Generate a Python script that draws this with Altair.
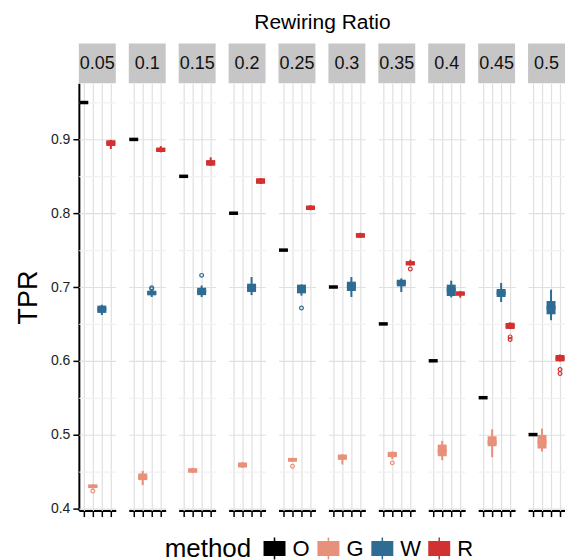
import altair as alt
import pandas as pd

ratios = ["0.05", "0.1", "0.15", "0.2", "0.25", "0.3", "0.35", "0.4", "0.45", "0.5"]
methods = ["O", "G", "W", "R"]
colors = ["#000000", "#E8917A", "#2E6C93", "#D13131"]

# O (constant per ratio)
O_lo  = [0.950, 0.900, 0.850, 0.800, 0.750, 0.700, 0.650, 0.600, 0.550, 0.500]
O_q1  = [0.950, 0.900, 0.850, 0.800, 0.750, 0.700, 0.650, 0.600, 0.550, 0.500]
O_med = [0.950, 0.900, 0.850, 0.800, 0.750, 0.700, 0.650, 0.600, 0.550, 0.500]
O_q3  = [0.950, 0.900, 0.850, 0.800, 0.750, 0.700, 0.650, 0.600, 0.550, 0.500]
O_hi  = [0.950, 0.900, 0.850, 0.800, 0.750, 0.700, 0.650, 0.600, 0.550, 0.500]

G_lo  = [0.4265, 0.4315, 0.4480, 0.4550, 0.4630, 0.4595, 0.4667, 0.4653, 0.4694, 0.4770]
G_q1  = [0.4275, 0.4383, 0.4486, 0.4554, 0.4635, 0.4658, 0.4694, 0.4707, 0.4842, 0.4811]
G_med = [0.4300, 0.4420, 0.4510, 0.4590, 0.4660, 0.4690, 0.4730, 0.4780, 0.4900, 0.4900]
G_q3  = [0.4320, 0.4473, 0.4545, 0.4622, 0.4680, 0.4730, 0.4766, 0.4865, 0.4977, 0.4995]
G_hi  = [0.4325, 0.4509, 0.4550, 0.4628, 0.4685, 0.4735, 0.4770, 0.4914, 0.5072, 0.5080]

W_lo  = [0.6620, 0.6865, 0.6865, 0.6890, 0.6883, 0.6865, 0.6932, 0.6860, 0.6797, 0.6550]
W_q1  = [0.6649, 0.6887, 0.6890, 0.6932, 0.6914, 0.6946, 0.7009, 0.6878, 0.6865, 0.6630]
W_med = [0.6700, 0.6920, 0.6940, 0.6990, 0.6980, 0.7010, 0.7060, 0.6960, 0.6920, 0.6720]
W_q3  = [0.6748, 0.6950, 0.6990, 0.7045, 0.7032, 0.7072, 0.7099, 0.7032, 0.6973, 0.6810]
W_hi  = [0.6760, 0.6955, 0.7020, 0.7135, 0.7035, 0.7135, 0.7117, 0.7086, 0.7054, 0.6964]

R_lo  = [0.8870, 0.8825, 0.8640, 0.8395, 0.8040, 0.7665, 0.7290, 0.6856, 0.6430, 0.5990]
R_q1  = [0.8910, 0.8830, 0.8644, 0.8400, 0.8045, 0.7667, 0.7293, 0.6883, 0.6432, 0.5995]
R_med = [0.8950, 0.8860, 0.8680, 0.8430, 0.8070, 0.7700, 0.7320, 0.6910, 0.6470, 0.6030]
R_q3  = [0.8990, 0.8890, 0.8720, 0.8473, 0.8104, 0.7730, 0.7351, 0.6941, 0.6514, 0.6077]
R_hi  = [0.8995, 0.8910, 0.8757, 0.8478, 0.8110, 0.7735, 0.7370, 0.6945, 0.6520, 0.6086]

out_ratio  = ["0.05", "0.1", "0.1", "0.15", "0.25", "0.25", "0.35", "0.35", "0.45", "0.45", "0.5", "0.5"]
out_method = ["G", "W", "W", "W", "G", "W", "G", "R", "R", "R", "R", "R"]
out_value  = [0.4234, 0.6990, 0.6975, 0.7158, 0.4572, 0.6716, 0.4617, 0.7243, 0.6324, 0.6288, 0.5883, 0.5829]

stats = {
    "O": (O_lo, O_q1, O_med, O_q3, O_hi),
    "G": (G_lo, G_q1, G_med, G_q3, G_hi),
    "W": (W_lo, W_q1, W_med, W_q3, W_hi),
    "R": (R_lo, R_q1, R_med, R_q3, R_hi),
}

rows = []
for m in methods:
    lo, q1, med, q3, hi = stats[m]
    for i, r in enumerate(ratios):
        rows.append(dict(kind="box", ratio=r, method=m, lo=lo[i], q1=q1[i],
                         med=med[i], q3=q3[i], hi=hi[i], value=None))
for r, m, v in zip(out_ratio, out_method, out_value):
    rows.append(dict(kind="out", ratio=r, method=m, lo=None, q1=None,
                     med=None, q3=None, hi=None, value=v))
df = pd.DataFrame(rows)

W_CELL = 37
H_CELL = 428
FONT = "Liberation Sans"

yscale = alt.Scale(domain=[0.397, 0.976], nice=False, zero=False)
is_major = "round(datum.value*100) % 10 == 0"
yaxis = alt.Axis(
    values=[0.4, 0.45, 0.5, 0.55, 0.6, 0.65, 0.7, 0.75, 0.8, 0.85, 0.9, 0.95],
    labelExpr=f"{is_major} ? format(datum.value, '.1f') : ''",
    title="TPR",
    titleFontSize=27, titleFontWeight="normal", titleColor="#000000",
    titlePadding=8,
    labelFontSize=14, labelColor="#222222", labelPadding=3,
    domainColor="#000000", domainWidth=2,
    tickSize=6, tickWidth=1.5,
    tickColor={"condition": {"test": is_major, "value": "#000000"}, "value": "transparent"},
    gridColor={"condition": {"test": is_major, "value": "#e0e0e0"}, "value": "#f1f1f1"},
    gridWidth=1.2,
)
xscale = alt.Scale(type="point", domain=methods, padding=0.55)
xaxis = alt.Axis(
    labels=False, title=None, ticks=True, tickSize=6, tickWidth=1.5,
    tickColor="#000000", domainColor="#000000", domainWidth=2,
    grid=True, gridColor="#e0e0e0", gridWidth=1.2,
)
cscale = alt.Scale(domain=methods, range=colors)
legend = alt.Legend(
    title="method", orient="none", legendX=86, legendY=455,
    direction="horizontal",
    titleOrient="left", titleFontSize=26, titleFontWeight="normal",
    titleColor="#000000", labelFontSize=22, labelColor="#000000",
    symbolType="M-1,-0.68H1V0.68H-1Z M-0.07,-1H0.07V1H-0.07Z",
    symbolSize=484, symbolStrokeWidth=0,
    symbolOpacity=1, labelOffset=7, columnPadding=7, titlePadding=12,
)
C = alt.Color("method:N", scale=cscale, legend=legend)

base = alt.Chart()
X = alt.X("method:N", scale=xscale, axis=xaxis)

boxes = base.transform_filter(alt.datum.kind == "box")

strip = boxes.transform_filter(alt.datum.method == "O").mark_rect(color="#c6c6c6").encode(
    x=alt.value(0), x2=alt.value(W_CELL), y=alt.value(-40), y2=alt.value(0)
)
strip_text = boxes.transform_filter(alt.datum.method == "O").mark_text(
    fontSize=18, font=FONT, color="#111111", baseline="middle", align="center"
).encode(x=alt.value(W_CELL / 2), y=alt.value(-19), text="ratio:N")

box = boxes.mark_bar(size=9).encode(
    x=X,
    y=alt.Y("q1:Q", scale=yscale, axis=yaxis),
    y2="q3:Q",
    color=C,
)
whisker = boxes.mark_rule(strokeWidth=2).encode(
    x=X,
    y=alt.Y("lo:Q", scale=yscale, axis=yaxis),
    y2="hi:Q",
    color=C,
)
median = boxes.mark_tick(thickness=3.5, size=9, opacity=1).encode(
    x=X,
    y=alt.Y("med:Q", scale=yscale, axis=yaxis),
    color=C,
)
outl = base.transform_filter(alt.datum.kind == "out").mark_point(
    shape="circle", filled=False, size=14, strokeWidth=1.2, opacity=1
).encode(
    x=X,
    y=alt.Y("value:Q", scale=yscale, axis=yaxis),
    color=C,
)

layer = alt.layer(strip, strip_text, box, whisker, median, outl, data=df).properties(
    width=W_CELL, height=H_CELL
)

chart = layer.facet(
    column=alt.Column(
        "ratio:N", sort=ratios,
        header=alt.Header(labels=False, title="Rewiring Ratio", titleFontSize=21,
                          titleFontWeight="normal", titleColor="#000000",
                          titleFont=FONT, titlePadding=0),
    ),
    spacing=13,
).configure(font=FONT).configure_view(stroke=None).configure_axis(
    labelFont=FONT, titleFont=FONT
).configure_legend(labelFont=FONT, titleFont=FONT, labelFontSize=22).properties(
    padding={"left": 14, "top": 12, "right": 0, "bottom": 0}
)

chart.save("out.html", embed_options={"renderer": "svg", "actions": False})
